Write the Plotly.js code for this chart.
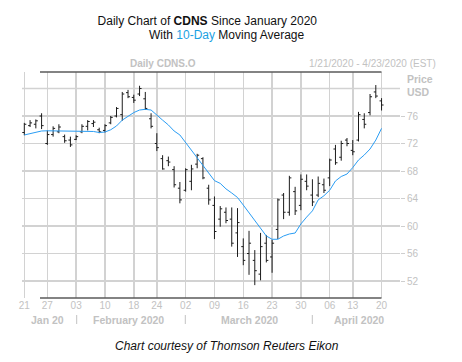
<!DOCTYPE html>
<html>
<head>
<meta charset="utf-8">
<script src="https://cdn.plot.ly/plotly-3.0.1.min.js"></script>
<style>html,body{margin:0;padding:0;background:#fff;}#chart{width:462px;height:362px;}</style>
</head>
<body>
<div id="chart"></div>
<script>
// Trading days shown (21 Jan 2020 - 20 Apr 2020)
const dates = [
 '2020-01-21','2020-01-22','2020-01-23','2020-01-24','2020-01-27','2020-01-28','2020-01-29','2020-01-30','2020-01-31',
 '2020-02-03','2020-02-04','2020-02-05','2020-02-06','2020-02-07','2020-02-10','2020-02-11','2020-02-12','2020-02-13','2020-02-14',
 '2020-02-18','2020-02-19','2020-02-20','2020-02-21','2020-02-24','2020-02-25','2020-02-26','2020-02-27','2020-02-28',
 '2020-03-02','2020-03-03','2020-03-04','2020-03-05','2020-03-06','2020-03-09','2020-03-10','2020-03-11','2020-03-12','2020-03-13',
 '2020-03-16','2020-03-17','2020-03-18','2020-03-19','2020-03-20','2020-03-23','2020-03-24','2020-03-25','2020-03-26','2020-03-27',
 '2020-03-30','2020-03-31','2020-04-01','2020-04-02','2020-04-03','2020-04-06','2020-04-07','2020-04-08','2020-04-09',
 '2020-04-13','2020-04-14','2020-04-15','2020-04-16','2020-04-17','2020-04-20'
];
const openPx  = [73.6,74.6,74.8,76.0,72.0,73.3,73.7,73.0,72.5, 72.6,73.7,74.5,74.9,74.0,73.9,75.0,76.0,76.2,79.4, 78.7,79.2,78.5,75.6,72.0,69.8,69.5,68.2,65.5, 65.2,66.5,69.0,69.8,65.5,63.0,61.0,62.0,61.0,59.0, 57.0,56.0,55.0,53.0,57.5,55.5,59.5,64.5,62.0,65.0, 63.0,66.5,64.5,64.5,66.0,67.0,71.2,70.0,72.5, 71.0,72.5,75.5,76.5,79.5,78.2];
const highPx  = [75.0,75.4,75.5,76.4,73.9,74.5,74.8,73.3,73.0, 73.2,74.8,75.4,75.4,74.3,74.8,76.0,77.3,79.5,79.8, 79.1,80.4,79.5,76.4,73.5,70.3,70.1,68.7,66.4, 68.4,68.9,70.5,70.0,66.0,64.3,62.9,62.7,62.7,62.6, 58.2,59.3,56.5,59.0,58.7,58.0,64.0,64.8,67.3,65.7, 67.5,67.5,66.8,67.2,66.9,69.8,71.8,72.4,72.8, 72.5,76.6,76.4,79.2,80.5,78.6];
const lowPx   = [73.2,74.4,74.2,74.1,71.8,73.0,73.5,72.1,71.5, 72.5,73.5,73.9,74.4,73.5,73.6,74.8,75.8,75.3,78.6, 77.9,78.9,76.9,74.2,70.9,68.2,68.7,65.6,63.3, 65.0,65.2,68.4,66.8,63.1,58.1,59.9,60.4,57.0,55.5, 54.3,52.9,51.4,52.1,54.7,53.2,58.1,61.0,61.5,61.6, 62.3,65.2,62.9,64.2,64.8,65.8,68.9,69.5,71.6, 70.3,72.3,74.2,76.1,78.6,76.8];
const closePx = [74.8,75.0,75.3,74.6,73.3,74.2,74.4,72.4,71.8, 73.0,74.5,75.2,75.1,73.7,74.6,75.8,77.1,79.2,78.8, 78.3,80.0,77.1,74.5,71.4,68.3,69.3,66.0,63.8, 68.2,68.3,70.3,67.0,63.8,59.2,62.5,60.8,57.5,60.5, 55.0,57.5,53.5,57.0,55.0,57.5,63.8,62.0,67.0,62.2, 66.8,65.8,63.5,66.2,65.2,69.6,69.2,72.0,72.0, 70.8,76.2,74.8,78.8,78.9,77.6];
// 10-day moving average as drawn
const ma10 = [73.24,73.45,73.72,73.82,73.85,73.85,73.85,73.82,73.82, 73.82,73.82,73.79,73.75,73.6,73.67,74.0,74.55,75.4,76.0, 76.5,76.87,76.97,76.87,76.2,75.4,74.7,73.82,73.24, 72.15,71.05,70.04,68.87,67.7,66.6,66.2,65.4,64.8,64.15, 63.05,61.9,60.87,59.7,58.55,58.07,58.07,58.55,58.84,58.98, 60.3,61.3,62.2,63.8,64.4,65.2,66.55,67.2,67.56, 68.5,69.6,70.33,71.2,72.5,74.2];

const tickDates  = ['2020-01-21','2020-01-27','2020-02-03','2020-02-10','2020-02-18','2020-02-24','2020-03-02','2020-03-09','2020-03-16','2020-03-23','2020-03-30','2020-04-06','2020-04-13','2020-04-20'];
const tickLabels = ['21','27','03','10','18','24','02','09','16','23','30','06','13','20'];
const priceTicks = [52,56,60,64,68,72,76];
const monthLabels = ['Jan 20','February 2020','March 2020','April 2020'];
const monthCenters = ['2020-01-27','2020-02-14','2020-03-17','2020-04-14'];

const xi = dates.map((d,i)=>i);
const tickvals = tickDates.map(d=>dates.indexOf(d));
const gray = '#c2c2c2';
const FONT = 'Liberation Sans, Arial';
const W=462,H=362, L=22, R=400, T=72, B=298;
const px2paperX = p => (p-L)/(R-L);
const px2paperY = p => (B-p)/(B-T);

const traces = [
 {type:'ohlc', x:xi, open:openPx, high:highPx, low:lowPx, close:closePx,
  increasing:{line:{color:'#1c1c1c',width:1}}, decreasing:{line:{color:'#1c1c1c',width:1}},
  tickwidth:0.35, hoverinfo:'skip', showlegend:false},
 {type:'scatter', mode:'lines', x:xi, y:ma10, line:{color:'#2a9df4',width:1}, hoverinfo:'skip', showlegend:false}
];

function ann(text, xpx, ypx, size, color, xanchor){
 return {text:text, xref:'paper', yref:'paper', x:px2paperX(xpx), y:px2paperY(ypx), xanchor:xanchor||'center', yanchor:'middle',
   showarrow:false, font:{family:FONT,size:size,color:color}};
}
const annotations = [
 ann('With <span style="color:#1ba1e2">10-Day</span> Moving Average', 226.5, 35, 12, '#111'),
 ann('<b>Daily CDNS.O</b>', 163, 64, 10, gray),
 ann('1/21/2020 - 4/23/2020 (EST)', 372, 64, 10, gray),
 ann('<b>Price</b>', 405, 79, 10.5, gray, 'left'),
 ann('<b>USD</b>', 405, 92, 10.5, gray, 'left'),
 ann('<i>Chart courtesy of Thomson Reuters Eikon</i>', 226.5, 346, 12, '#111')
];
monthLabels.forEach((m,k)=>{
 annotations.push({text:'<b>'+m+'</b>', xref:'x', yref:'paper', x:dates.indexOf(monthCenters[k]), y:px2paperY(320), yanchor:'middle', showarrow:false, font:{family:FONT,size:10.5,color:gray}});
});

const shapes = [
 {type:'line', xref:'paper', yref:'paper', x0:px2paperX(40), x1:px2paperX(381.5), y0:1, y1:1, line:{color:'#5a5a5a',width:1.5}},
 {type:'line', xref:'paper', yref:'paper', x0:px2paperX(40), x1:px2paperX(381.5), y0:0, y1:0, line:{color:'#5a5a5a',width:1.5}},
 {type:'line', xref:'paper', yref:'y', x0:0, x1:1, y0:80, y1:80, line:{color:'#d2d2d2',width:1.5}, layer:'below'}
];
[76.7,185.3,312.3].forEach(p=>shapes.push({type:'line', xref:'paper', yref:'paper', x0:px2paperX(p), x1:px2paperX(p), y0:px2paperY(315), y1:px2paperY(324), line:{color:gray,width:1}}));

const layout = {
 width:W, height:H, paper_bgcolor:'#fff', plot_bgcolor:'#fff',
 margin:{l:L, r:W-R, t:T, b:H-B, pad:0},
 title:{text:'Daily Chart of <b>CDNS</b> Since January 2020',
  font:{family:FONT,size:12,color:'#111'}, x:226.5/W, xanchor:'center', xref:'paper', yref:'container', y:1-21/H, yanchor:'middle'},
 xaxis:{type:'linear', autorange:false, range:[-0.4,65.2], tickmode:'array', tickvals:tickvals, ticktext:tickLabels,
  showgrid:true, gridcolor:'#d2d2d2', gridwidth:1.5, zeroline:false, showline:false, ticks:'', automargin:false,
  tickfont:{family:FONT,size:10,color:gray}, rangeslider:{visible:false}, fixedrange:true},
 yaxis:{side:'right', autorange:false, range:[49.53,82.4], tickmode:'array', tickvals:priceTicks, ticktext:priceTicks.map(String),
  showgrid:true, gridcolor:'#d2d2d2', gridwidth:1.5, zeroline:false, showline:false, ticks:'outside', ticklen:4, tickcolor:'#cfcfcf',
  automargin:false, tickfont:{family:FONT,size:10,color:gray}, fixedrange:true},
 annotations:annotations, shapes:shapes, showlegend:false
};
Plotly.newPlot('chart', traces, layout, {staticPlot:true, displayModeBar:false});
</script>
</body>
</html>
